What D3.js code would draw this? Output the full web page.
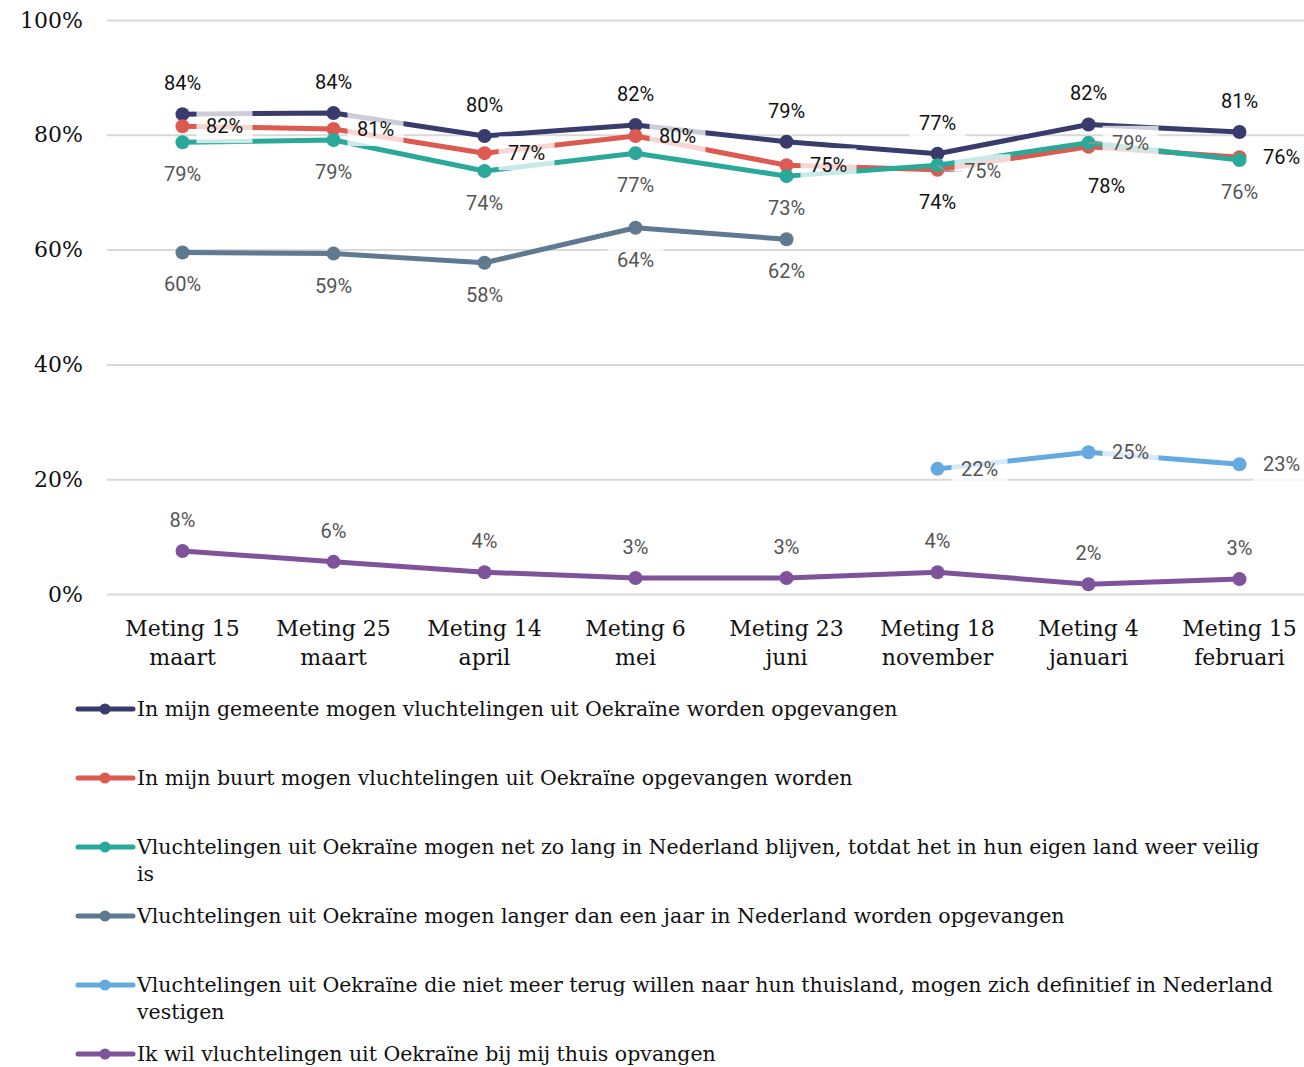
<!DOCTYPE html>
<html>
<head>
<meta charset="utf-8">
<script src="https://cdn.jsdelivr.net/npm/d3@7"></script>
<style>
  body { margin: 0; background: #fff; }
  .tick text { font-family: "DejaVu Serif", serif; }
</style>
</head>
<body>
<div id="chart"></div>
<script>
// categories (two-line x labels)
var categories = ["Meting 15|maart", "Meting 25|maart", "Meting 14|april", "Meting 6|mei",
                  "Meting 23|juni", "Meting 18|november", "Meting 4|januari", "Meting 15|februari"];

// series values (%), null = not measured
var gemeente  = [83.6, 83.8, 79.8, 81.7, 78.8, 76.7, 81.8, 80.5];
var buurt     = [81.5, 81.0, 76.8, 79.8, 74.7, 73.9, 77.9, 76.1];
var zoLang    = [78.7, 79.1, 73.7, 76.8, 72.8, 74.7, 78.6, 75.6];
var langerJaar = [59.5, 59.3, 57.7, 63.8, 61.8, null, null, null];
var vestigen  = [null, null, null, null, null, 21.8, 24.7, 22.6];
var thuis     = [7.5, 5.6, 3.8, 2.8, 2.8, 3.8, 1.7, 2.6];

var seriesNames = [
  "In mijn gemeente mogen vluchtelingen uit Oekraïne worden opgevangen",
  "In mijn buurt mogen vluchtelingen uit Oekraïne opgevangen worden",
  "Vluchtelingen uit Oekraïne mogen net zo lang in Nederland blijven, totdat het in hun eigen land weer veilig|is",
  "Vluchtelingen uit Oekraïne mogen langer dan een jaar in Nederland worden opgevangen",
  "Vluchtelingen uit Oekraïne die niet meer terug willen naar hun thuisland, mogen zich definitief in Nederland|vestigen",
  "Ik wil vluchtelingen uit Oekraïne bij mij thuis opvangen"
];
var yTicks = [0, 20, 40, 60, 80, 100];

var seriesValues = [gemeente, buurt, zoLang, langerJaar, vestigen, thuis];
var colors = ["#383b6b", "#dc5a4f", "#2aa89a", "#5f7a90", "#64a9df", "#7f529c"];
var labelColors = ["#111", "#111", "#555", "#555", "#555", "#555"];

// label placement: default per series, with overrides per point
var place = [
  {def: "above"},
  {def: "right", 5: "below", 6: "belowR"},
  {def: "below", 5: "rightLow", 6: "right"},
  {def: "below"},
  {def: "right"},
  {def: "above"}
];

var W = 1304, H = 1067;
var margin = {top: 20, left: 107};
var plotH = 574;

var svg = d3.select("#chart").append("svg")
  .attr("width", W).attr("height", H);

var x = d3.scaleBand().domain(d3.range(categories.length)).range([107, 107 + 151 * 8]);
var y = d3.scaleLinear().domain([0, 100]).range([margin.top + plotH, margin.top]);

// gridlines + y axis
var yAxis = svg.append("g")
  .attr("transform", "translate(" + margin.left + ",0)")
  .call(d3.axisLeft(y).tickValues(yTicks).tickSize(-(W - margin.left)).tickFormat(function(d) { return d + "%"; }));
yAxis.select(".domain").remove();
yAxis.selectAll(".tick line").attr("stroke", "#d9d9d9").attr("stroke-width", 2);
yAxis.selectAll(".tick text").attr("x", -24).attr("font-size", 22).attr("fill", "#111");

// x axis labels
var xAxis = svg.append("g")
  .attr("transform", "translate(0," + (margin.top + plotH) + ")")
  .call(d3.axisBottom(x).tickSize(0).tickFormat(""));
xAxis.select(".domain").remove();
xAxis.selectAll(".tick").each(function(i) {
  var parts = categories[i].split("|");
  var t = d3.select(this).append("text")
    .attr("fill", "#111").attr("font-size", 22).attr("text-anchor", "middle")
    .attr("y", 42);
  t.append("tspan").attr("x", 0).text(parts[0]);
  t.append("tspan").attr("x", 0).attr("dy", 29).text(parts[1]);
});

var cx = function(i) { return x(i) + x.bandwidth() / 2; };

var line = d3.line()
  .defined(function(d) { return d != null; })
  .x(function(d, i) { return cx(i); })
  .y(function(d) { return y(d); });

var gLines = svg.append("g");
seriesValues.forEach(function(vals, s) {
  gLines.append("path")
    .attr("d", line(vals))
    .attr("fill", "none")
    .attr("stroke", colors[s])
    .attr("stroke-width", 5)
    .attr("stroke-linejoin", "round");
  gLines.selectAll(".pt" + s)
    .data(vals.map(function(v, i) { return {v: v, i: i}; }).filter(function(d) { return d.v != null; }))
    .enter().append("circle")
    .attr("cx", function(d) { return cx(d.i); })
    .attr("cy", function(d) { return y(d.v); })
    .attr("r", 7)
    .attr("fill", colors[s]);
});

// data labels
var gLab = svg.append("g").attr("font-family", "Roboto, sans-serif").attr("font-size", 20);
var offsets = {
  above:   [0, -31],
  below:   [0, 32],
  right:   [42, 0],
  belowR:  [18, 39],
  rightLow:[45, 6]
};
seriesValues.forEach(function(vals, s) {
  vals.forEach(function(v, i) {
    if (v == null) return;
    var p = place[s][i] || place[s].def;
    var o = offsets[p];
    var px = cx(i), py = y(v);
    var lx = px + o[0], ly = py + o[1];
    if (p === "rightLow" || (s === 2 && i === 6)) {
      gLab.append("path")
        .attr("d", "M" + px + "," + py + "L" + (px + 8) + "," + (ly) + "L" + (lx - 20) + "," + ly)
        .attr("fill", "none").attr("stroke", "#999").attr("stroke-width", 1.5);
    }
    var txt = Math.round(v) + "%";
    var tw = 42;
    gLab.append("rect")
      .attr("x", lx - tw / 2 - 7).attr("y", ly - 17)
      .attr("width", tw + 14).attr("height", 34)
      .attr("fill", "#fff").attr("fill-opacity", 0.75);
    gLab.append("text")
      .attr("x", lx).attr("y", ly).attr("dy", "0.35em")
      .attr("text-anchor", "middle")
      .attr("fill", labelColors[s])
      .text(txt);
  });
});

// legend
var legendY = [709, 778, 847, 916, 985, 1054];
var gLeg = svg.append("g").attr("font-family", "'DejaVu Serif', serif").attr("font-size", 20.5).attr("fill", "#111");
seriesNames.forEach(function(name, s) {
  var g = gLeg.append("g").attr("transform", "translate(0," + legendY[s] + ")");
  g.append("line").attr("x1", 78).attr("x2", 133).attr("y1", 0).attr("y2", 0)
    .attr("stroke", colors[s]).attr("stroke-width", 5).attr("stroke-linecap", "round");
  g.append("circle").attr("cx", 105).attr("cy", 0).attr("r", 5.5).attr("fill", colors[s]);
  var parts = name.split("|");
  var t = g.append("text").attr("x", 137).attr("y", 0).attr("dy", "0.35em");
  t.append("tspan").attr("x", 137).text(parts[0]);
  if (parts[1]) t.append("tspan").attr("x", 137).attr("dy", 27).text(parts[1]);
});
</script>
</body>
</html>
